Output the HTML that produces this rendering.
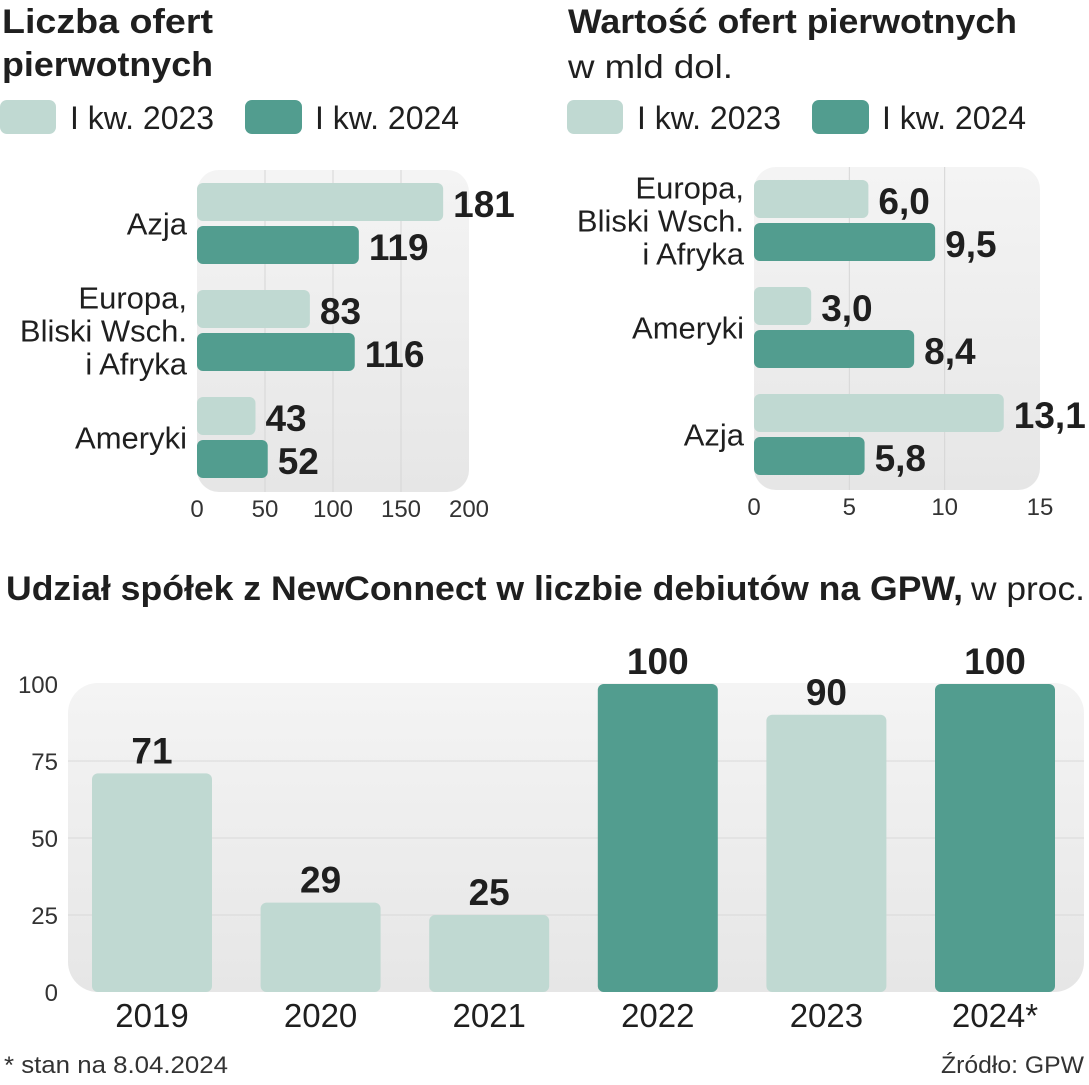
<!DOCTYPE html>
<html><head><meta charset="utf-8">
<style>
html,body{margin:0;padding:0;background:#fff;}
body{width:1089px;height:1080px;overflow:hidden;font-family:"Liberation Sans",sans-serif;color:#1f1f1f;}
svg text{font-family:"Liberation Sans",sans-serif;}
</style></head>
<body>
<svg id="chart" width="1089" height="1080" viewBox="0 0 1089 1080" xmlns="http://www.w3.org/2000/svg">
<defs>
<linearGradient id="bg" x1="0" y1="0" x2="0" y2="1"><stop offset="0" stop-color="#f4f4f4"/><stop offset="1" stop-color="#e6e6e6"/></linearGradient>
</defs>
<g font-weight="bold" font-size="34" fill="#1f1f1f">
<text x="2" y="33" textLength="211" lengthAdjust="spacingAndGlyphs">Liczba  ofert</text><text x="2" y="76" textLength="211" lengthAdjust="spacingAndGlyphs">pierwotnych</text></g>
<g>
<text x="568" y="33" font-weight="bold" font-size="34" fill="#1f1f1f" textLength="449" lengthAdjust="spacingAndGlyphs">Wartość ofert pierwotnych</text>
<text x="568" y="78" font-size="33" fill="#1f1f1f" textLength="165" lengthAdjust="spacingAndGlyphs">w mld dol.</text></g>
<g id="legend1"></g>
<g id="legend2"></g>
<g id="c1"></g>
<g id="c2"></g>
<text x="6" y="600" font-size="34" fill="#1f1f1f" textLength="957" lengthAdjust="spacingAndGlyphs" font-weight="bold">Udział spółek z NewConnect w liczbie debiutów na GPW,</text>
<text x="971" y="600" font-size="33" fill="#1f1f1f" textLength="114" lengthAdjust="spacingAndGlyphs">w proc.</text>
<g id="c3"></g>
<text x="4" y="1073" font-size="24" fill="#333" textLength="224" lengthAdjust="spacingAndGlyphs">* stan na 8.04.2024</text>
<text x="941" y="1073" font-size="24" fill="#333" textLength="143" lengthAdjust="spacingAndGlyphs">Źródło: GPW</text>
</svg>
<script>
const countCats = [["Azja"],["Europa,","Bliski Wsch.","i Afryka"],["Ameryki"]];
const count2023 = [181, 83, 43];
const count2024 = [119, 116, 52];
const countTicks = [0, 50, 100, 150, 200];
const valueCats = [["Europa,","Bliski Wsch.","i Afryka"],["Ameryki"],["Azja"]];
const value2023 = [6.0, 3.0, 13.1];
const value2024 = [9.5, 8.4, 5.8];
const valueTicks = [0, 5, 10, 15];
const years = ["2019","2020","2021","2022","2023","2024*"];
const shares = [71, 29, 25, 100, 90, 100];
const shareDark = [false,false,false,true,false,true];
const shareTicks = [0, 25, 50, 75, 100];
const LIGHT="#c0d9d2", DARK="#529d8f";
const NS="http://www.w3.org/2000/svg";
function mk(tag, attrs, parent){const e=document.createElementNS(NS,tag);for(const k in attrs)e.setAttribute(k,attrs[k]);parent.appendChild(e);return e;}

function legend(g,x0){
  const s1=mk('rect',{x:x0,y:100,width:56,height:34,rx:7,fill:LIGHT},g);
  
  
  const t1=mk('text',{x:x0+70,y:129,'font-size':32,fill:'#1f1f1f'},g);t1.textContent='I kw. 2023';
  
  
  const s2=mk('rect',{x:x0+245,y:100,width:57,height:34,rx:7,fill:DARK},g);
  
  
  const t2=mk('text',{x:x0+315,y:129,'font-size':32,fill:'#1f1f1f'},g);t2.textContent='I kw. 2024';
  
  
}
legend(document.getElementById('legend1'),0);
legend(document.getElementById('legend2'),567);

function hchart(g,cfg){
  const x=v=>cfg.x0+(v-cfg.min)/(cfg.max-cfg.min)*(cfg.x1-cfg.x0);
  const bg=mk('rect',{x:cfg.x0,y:cfg.top,width:cfg.x1-cfg.x0,height:cfg.bottom-cfg.top,rx:22,fill:'url(#bg)'},g);
  
  
  cfg.ticks.forEach((t,i)=>{
    if(i>0&&i<cfg.ticks.length-1){const l=mk('line',{x1:x(t),x2:x(t),y1:cfg.top,y2:cfg.bottom,stroke:'#d6d6d6','stroke-width':1},g);
      
      }
    const tl=mk('text',{x:x(t),y:cfg.bottom+25,'text-anchor':'middle','font-size':24,fill:'#333'},g);
    tl.textContent=String(t);
    
    
  });
  cfg.cats.forEach((c,i)=>{
    const gy=cfg.first+i*cfg.step;
    [[cfg.a,LIGHT,0],[cfg.b,DARK,cfg.bh+5]].forEach(([arr,col,off])=>{
      const v=arr[i];
      const r=mk('rect',{x:x(0),y:gy+off,width:x(v)-x(0),height:cfg.bh,rx:6,fill:col},g);
      
      
      const vt=mk('text',{x:x(v)+10,y:gy+off+cfg.bh-4,'font-size':37,'font-weight':'bold',fill:'#1f1f1f'},g);
      vt.textContent=cfg.fmt(v);
      
      
    });
    const mid=gy+cfg.bh+2.5;
    const n=c.length, lh=33;
    c.forEach((line,j)=>{
      const ct=mk('text',{x:cfg.x0-10,y:mid+(j-(n-1)/2)*lh+11,'text-anchor':'end','font-size':31,fill:'#1f1f1f'},g);
      ct.textContent=line;
      
      
    });
  });
}
hchart(document.getElementById('c1'),{x0:197,x1:469,min:0,max:200,top:170,bottom:492,ticks:countTicks,cats:countCats,a:count2023,b:count2024,first:183,step:107,bh:38,fmt:v=>String(v)});
hchart(document.getElementById('c2'),{x0:754,x1:1040,min:0,max:15,top:167,bottom:490,ticks:valueTicks,cats:valueCats,a:value2023,b:value2024,first:180,step:107,bh:38,fmt:v=>v.toFixed(1).replace('.',',')});

(function(){
  const g=document.getElementById('c3');
  const y0=992,y100=684;
  const y=v=>y0-(v/100)*(y0-y100);
  const bx=i=>92+i*168.6;
  const bg=mk('rect',{x:68,y:683,width:1016,height:309,rx:30,fill:'url(#bg)'},g);
  
  
  shareTicks.forEach(t=>{
    if(t>0&&t<100){const l=mk('line',{x1:68,x2:1084,y1:y(t),y2:y(t),stroke:'#d9d9d9','stroke-width':1},g);
      
      }
    const tl=mk('text',{x:58,y:y(t)+9,'text-anchor':'end','font-size':24,fill:'#333'},g);
    tl.textContent=String(t);
    
    
  });
  shares.forEach((v,i)=>{
    const r=mk('rect',{x:bx(i),y:y(v),width:120,height:y0-y(v),rx:6,fill:shareDark[i]?DARK:LIGHT},g);
    
    
    const vt=mk('text',{x:bx(i)+60,y:y(v)-10,'text-anchor':'middle','font-size':37,'font-weight':'bold',fill:'#1f1f1f'},g);
    vt.textContent=String(v);
    
    
    const yl=mk('text',{x:bx(i)+60,y:1027,'text-anchor':'middle','font-size':33,fill:'#1f1f1f'},g);
    yl.textContent=years[i];
    
    
  });
})();
</script>
</body></html>
